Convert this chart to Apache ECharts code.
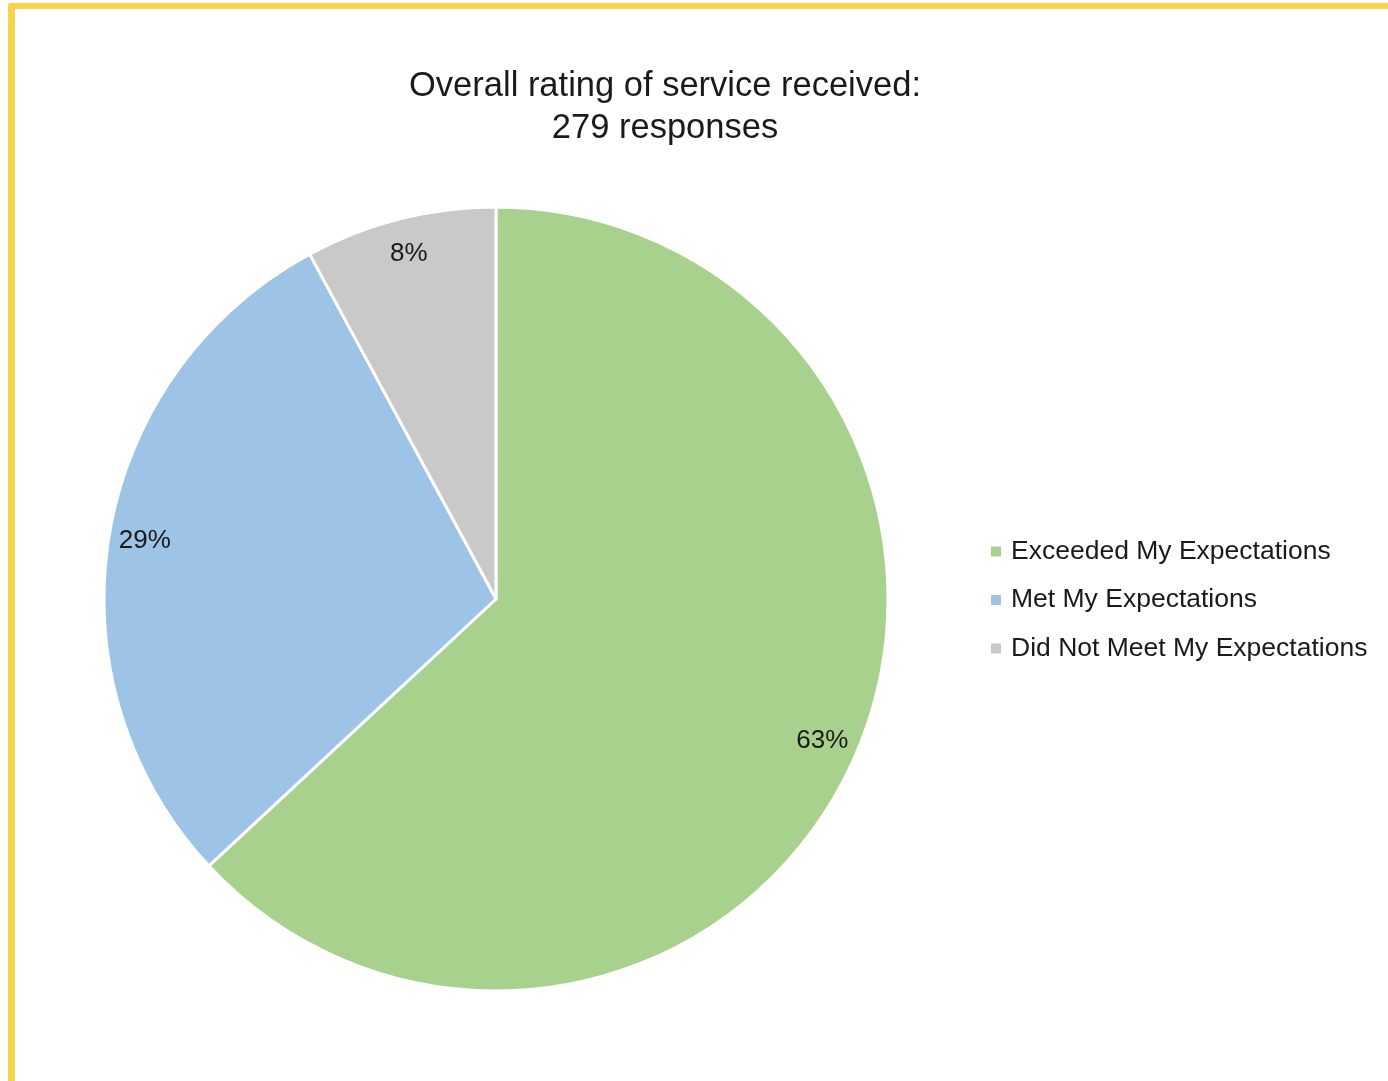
<!DOCTYPE html>
<html>
<head>
<meta charset="utf-8">
<script src="https://cdn.jsdelivr.net/npm/echarts@6/dist/echarts.min.js"></script>
<style>
	html, body { margin: 0; padding: 0; background: #fff; }
	#frame {
		position: absolute; left: 8px; top: 3px; width: 1500px; height: 1200px;
		border-top: 6px solid #F8D44C; border-left: 7px solid #F8D44C;
		border-top-left-radius: 3px;
	}
	#main { position: absolute; left: 0; top: 0; width: 1388px; height: 1081px; }
</style>
</head>
<body>
<div id="frame"></div>
<div id="main"></div>
<script>
	// 279 responses in total
	var categories = ['Exceeded My Expectations', 'Met My Expectations', 'Did Not Meet My Expectations'];
	var responses = [176, 81, 22];
	var colors = ['#A9D18E', '#9DC3E6', '#C9C9C9'];

	var fontName = '"Liberation Sans Narrow", "Liberation Sans", sans-serif';

	var pieData = categories.map(function(name, i) {
		return { name: name, value: responses[i], itemStyle: { color: colors[i] } };
	});

	var myChart = echarts.init(document.getElementById('main'));
	var option = {
		animation: false,
		title: {
			text: 'Overall rating of service received:\n279 responses',
			left: 660,
			textAlign: 'center',
			top: 60,
			textStyle: {
				fontFamily: fontName,
				fontSize: 34.5,
				fontWeight: 'normal',
				color: '#1a1a1a',
				lineHeight: 42
			}
		},
		legend: {
			orient: 'vertical',
			left: 986,
			top: 533,
			itemWidth: 10,
			itemHeight: 10,
			itemGap: 21.5,
			icon: 'rect',
			itemStyle: { borderWidth: 0 },
			data: categories,
			textStyle: {
				fontFamily: fontName,
				fontSize: 26.5,
				color: '#1a1a1a',
				padding: [0, 0, 0, 5]
			}
		},
		series: [{
			name: 'rating',
			type: 'pie',
			center: [496, 599],
			radius: [0, 392],
			startAngle: 90,
			clockwise: true,
			itemStyle: {
				borderColor: '#fff',
				borderWidth: 3
			},
			label: { show: false },
			labelLine: { show: false },
			emphasis: { disabled: true },
			data: pieData
		}, {
			// transparent ring that only carries the labels near the rim
			name: 'labels',
			type: 'pie',
			center: [496, 599],
			radius: [314, 392],
			startAngle: 90,
			clockwise: true,
			silent: true,
			itemStyle: { color: 'rgba(0,0,0,0)', borderWidth: 0 },
			label: {
				show: true,
				position: 'inside',
				formatter: function(p) { return Math.round(p.percent) + '%'; },
				fontFamily: fontName,
				fontSize: 26,
				color: '#1a1a1a'
			},
			labelLine: { show: false },
			emphasis: { disabled: true },
			data: categories.map(function(name, i) {
				return { name: name, value: responses[i] };
			})
		}]
	};
	myChart.setOption(option);
</script>
</body>
</html>
